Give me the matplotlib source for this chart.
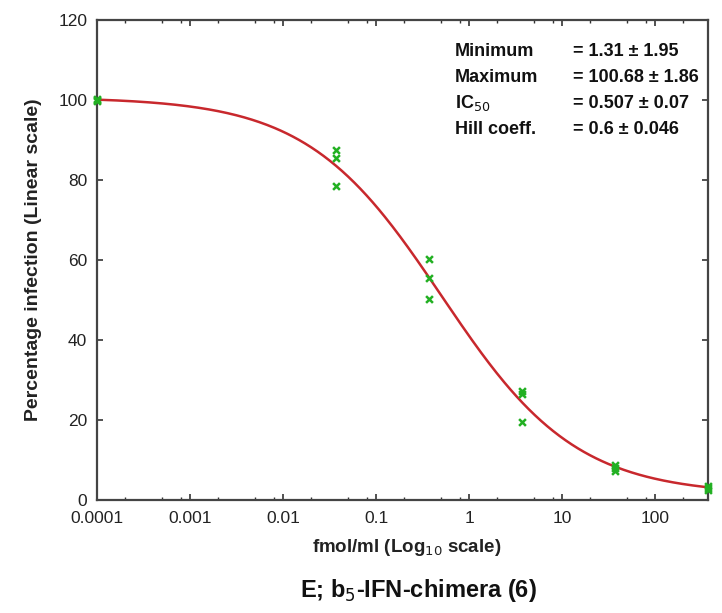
import numpy as np
import matplotlib
matplotlib.use("Agg")
import matplotlib.pyplot as plt
from matplotlib.ticker import LogLocator, NullFormatter

plt.rcParams['font.family'] = ['Liberation Sans', 'DejaVu Sans']

# Data
conc = [0.0001, 0.0001, 0.0001,
        0.037, 0.037, 0.037,
        0.37, 0.37, 0.37,
        3.7, 3.7, 3.7,
        37, 37, 37,
        370, 370, 370]
infection = [100.0, 99.8, 100.2,
             87.5, 85.5, 78.5,
             60.2, 55.5, 50.3,
             27.3, 26.5, 19.5,
             8.8, 8.0, 7.3,
             3.4, 2.9, 2.5]

# Fitted 4-parameter logistic parameters (shown on chart)
fit_min, fit_max, ic50, hill = 1.31, 100.68, 0.507, 0.6
param_names = ["Minimum", "Maximum", "IC$_{50}$", "Hill coeff."]
param_values = ["= 1.31 \u00b1 1.95", "= 100.68 \u00b1 1.86", "= 0.507 \u00b1 0.07", "= 0.6 \u00b1 0.046"]

xticks = [0.0001, 0.001, 0.01, 0.1, 1, 10, 100]
xticklabels = ["0.0001", "0.001", "0.01", "0.1", "1", "10", "100"]
yticks = [0, 20, 40, 60, 80, 100, 120]

fig = plt.figure(figsize=(7.22, 6.13), dpi=100)
ax = fig.add_axes([97/722, 1-500/613, (708-97)/722, (500-20)/613])

xs = np.logspace(-4, np.log10(370), 400)
ys = fit_min + (fit_max - fit_min) / (1 + (xs / ic50) ** hill)
ax.plot(xs, ys, color='#c8282d', lw=1.8, zorder=2)
ax.scatter(conc, infection, marker='x', s=24, color='#22b022', linewidths=1.8, zorder=3, clip_on=False)

ax.set_xscale('log')
ax.set_xlim(0.0001, 370)
ax.set_ylim(0, 120)
ax.set_xticks(xticks)
ax.set_xticklabels(xticklabels)
ax.xaxis.set_minor_locator(LogLocator(base=10, subs=(2, 5, 8), numticks=20))
ax.xaxis.set_minor_formatter(NullFormatter())
ax.set_yticks(yticks)
ax.tick_params(axis='both', which='major', direction='in', length=4, width=1.2,
               labelsize=12.5, colors='#333333', labelcolor='#222222', top=True, right=True, pad=7)
ax.tick_params(axis='both', which='minor', direction='in', length=2.5, width=1.0,
               colors='#333333', top=True, right=True)
ax.tick_params(axis='x', which='major', labelbottom=True, labeltop=False, pad=8)
for s in ax.spines.values():
    s.set_linewidth(1.6)
    s.set_color('#444444')

ax.set_ylabel("Percentage infection (Linear scale)", fontsize=14, fontweight='bold', labelpad=12, color='#222222')
fig.text(407/722, 1 - 548/613, "fmol/ml (Log$_{10}$ scale)", fontsize=13.5, fontweight='bold',
         ha='center', va='center', color='#222222')

# Parameter annotation
y0 = 51
for i, (n, v) in enumerate(zip(param_names, param_values)):
    ypix = y0 + i * 26
    fig.text(455/722, 1 - ypix/613, n, fontsize=13, fontweight='bold', va='center', ha='left', color='#111111')
    fig.text(573/722, 1 - ypix/613, v, fontsize=13, fontweight='bold', va='center', ha='left', color='#111111')

fig.text(418/722, 1 - 590/613, "E; b$_{5}$-IFN-chimera (6)", fontsize=17, fontweight='bold',
         ha='center', va='center', color='#111111')

fig.savefig("out.png", dpi=100)
